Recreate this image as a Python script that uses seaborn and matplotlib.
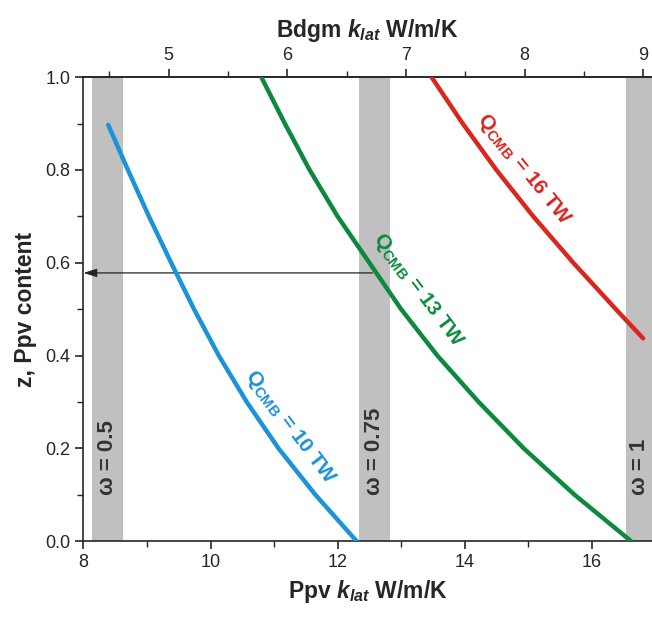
import matplotlib
matplotlib.use("Agg")
import matplotlib.pyplot as plt
import seaborn as sns
import pandas as pd

# valores: z (conteudo de Ppv) x k_lat da Ppv
blue_z = [0.0, 0.1, 0.2, 0.3, 0.4, 0.5, 0.6, 0.7, 0.8, 0.897]
blue_k = [12.30, 11.65, 11.07, 10.57, 10.13, 9.74, 9.38, 9.03, 8.70, 8.39]

green_z = [0.0, 0.1, 0.2, 0.3, 0.4, 0.5, 0.6, 0.7, 0.8, 0.9, 1.0]
green_k = [16.62, 15.73, 14.93, 14.22, 13.57, 13.00, 12.50, 12.00, 11.56, 11.17, 10.80]

red_z = [0.437, 0.5, 0.6, 0.7, 0.8, 0.9, 1.0]
red_k = [16.81, 16.38, 15.71, 15.08, 14.50, 13.97, 13.48]

q_labels = ["10", "13", "16"]
omega_labels = ["ω = 0.5", "ω = 0.75", "ω = 1"]
omega_lo = [8.14, 12.33, 16.54]
omega_hi = [8.63, 12.83, 17.2]

arrow_z = 0.578
arrow_k = 12.55

ratio = 1.868  # Ppv k_lat / Bdgm k_lat

sns.set_style("ticks")
plt.rcParams["font.family"] = ["Liberation Sans", "DejaVu Sans"]
plt.rcParams["mathtext.fontset"] = "custom"
plt.rcParams["mathtext.rm"] = "Liberation Sans:bold"
plt.rcParams["mathtext.it"] = "Liberation Sans:bold:italic"
plt.rcParams["mathtext.bf"] = "Liberation Sans:bold"

fig = plt.figure(figsize=(6.52, 6.17), dpi=100)
ax = fig.add_axes([0.128, 0.123, 0.872, 0.752])

for lo, hi, lab in zip(omega_lo, omega_hi, omega_labels):
    ax.axvspan(lo, hi, color="#c0c0c0", lw=0, zorder=0)
    xc = (lo + min(hi, 16.97)) / 2
    ax.text(xc, 0.1, lab, rotation=90, ha="center", va="bottom",
            fontsize=16, fontweight="bold", color="#333333")

colors = ["#1b92d9", "#0b8a3e", "#d9261f"]
curves = [(blue_k, blue_z), (green_k, green_z), (red_k, red_z)]
for (k, z), c in zip(curves, colors):
    df = pd.DataFrame({"k": k, "z": z})
    sns.lineplot(data=df, x="k", y="z", sort=False, estimator=None,
                 color=c, lw=3.2, ax=ax, zorder=3,
                 solid_capstyle="round", solid_joinstyle="round")

label_pos = [(11.25, 0.245, -53), (13.27, 0.54, -53), (14.93, 0.80, -51)]
for (x, y, rot), q, c in zip(label_pos, q_labels, colors):
    ax.text(x, y, r"Q$_{\mathrm{CMB}}$ = " + q + " TW", rotation=rot,
            rotation_mode="anchor", ha="center", va="center",
            fontsize=15, fontweight="bold", color=c)

ax.annotate("", xy=(8.0, arrow_z), xytext=(arrow_k, arrow_z),
            arrowprops=dict(arrowstyle="-|>,head_length=0.8,head_width=0.25",
                            color="#222222", lw=0.9, shrinkA=0, shrinkB=0),
            zorder=2)

ax.set_xlim(8, 16.95)
ax.set_ylim(0, 1)
ax.set_xticks([8, 10, 12, 14, 16])
ax.set_xticks([9, 11, 13, 15], minor=True)
ax.set_yticks([0, 0.2, 0.4, 0.6, 0.8, 1.0])
ax.set_yticks([0.1, 0.3, 0.5, 0.7, 0.9], minor=True)
ax.set_yticklabels(["0.0", "0.2", "0.4", "0.6", "0.8", "1.0"])
ax.tick_params(which="major", length=6, width=1.2, labelsize=13, direction="out")
ax.tick_params(which="minor", length=4, width=1.0, direction="out")
ax.set_xlabel(r"Ppv $k_{lat}$ W/m/K", fontsize=16.5, fontweight="bold", labelpad=5)
ax.set_ylabel("z, Ppv content", fontsize=16.5, fontweight="bold", labelpad=6)
for s in ["left", "bottom", "top"]:
    ax.spines[s].set_linewidth(1.2)
ax.spines["right"].set_visible(False)

top = ax.secondary_xaxis("top", functions=(lambda p: p / ratio, lambda b: b * ratio))
top.set_xticks([5, 6, 7, 8, 9])
top.set_xticks([4.5, 5.5, 6.5, 7.5, 8.5], minor=True)
top.tick_params(which="major", length=6, width=1.2, labelsize=13, direction="out")
top.tick_params(which="minor", length=4, width=1.0, direction="out")
top.set_xlabel(r"Bdgm $k_{lat}$ W/m/K", fontsize=16.5, fontweight="bold", labelpad=7)
top.spines["top"].set_linewidth(1.2)

fig.savefig("out.png", dpi=100)
